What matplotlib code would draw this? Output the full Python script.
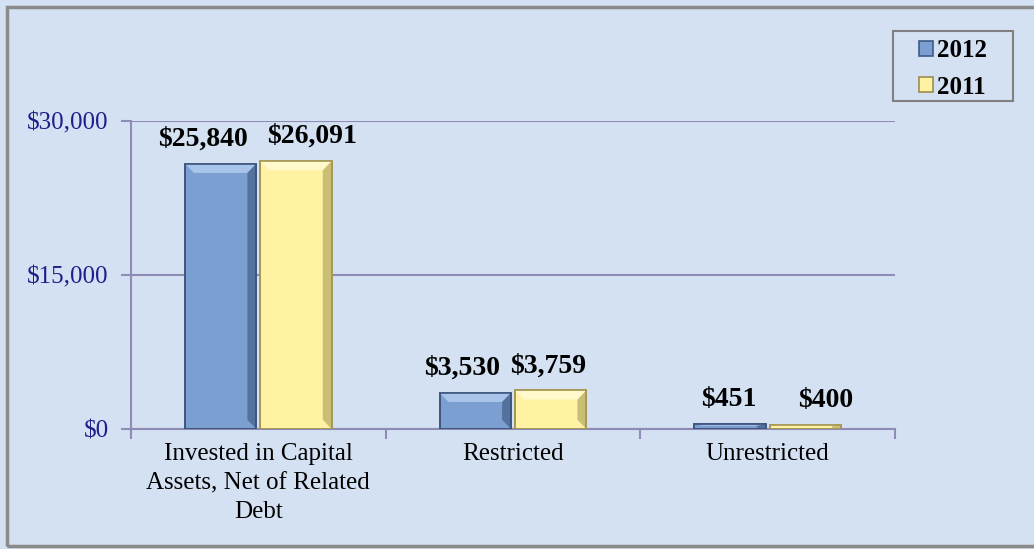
import numpy as np
import matplotlib
matplotlib.use("Agg")
import matplotlib.pyplot as plt
from matplotlib.patches import Rectangle, Polygon

categories = ["Invested in Capital\nAssets, Net of Related\nDebt", "Restricted", "Unrestricted"]
values_2012 = [25840, 3530, 451]
values_2011 = [26091, 3759, 400]
series_names = ["2012", "2011"]

BG = "#D3E1F2"
C_BLUE, E_BLUE = "#7B9FD1", "#3F5A85"
C_YEL, E_YEL = "#FFF2A3", "#9C8E4E"
GRID = "#8E8CB5"
NAVY = "#1F1F8C"

plt.rcParams["font.family"] = ["Liberation Serif", "DejaVu Serif"]

fig = plt.figure(figsize=(10.34, 5.49), dpi=100)
fig.patch.set_facecolor(BG)
# outer frame (left/top shadowed edge)
fig.patches.append(Rectangle((7 / 1034, 3 / 549), 1.1, 1 - 10 / 549, transform=fig.transFigure,
                             fill=False, edgecolor="#8A8A8A", lw=2.5))

ax = fig.add_axes([131 / 1034, 1 - 429 / 549, (895 - 131) / 1034, (429 - 121) / 549])
ax.set_facecolor(BG)

x = np.arange(len(categories))
w, off = 0.28, 0.148
b1 = ax.bar(x - off, values_2012, w, color=C_BLUE, edgecolor=E_BLUE, lw=1.2, label=series_names[0], zorder=3)
b2 = ax.bar(x + off, values_2011, w, color=C_YEL, edgecolor=E_YEL, lw=1.2, label=series_names[1], zorder=3)

# simple bevel look: light top, dark right side
bx = 0.035
for bars, light, dark in [(b1, "#A9C4EA", "#3D557C"), (b2, "#FFF9CC", "#A89A55")]:
    for r in bars:
        x0, y0, ww, hh = r.get_x(), r.get_y(), r.get_width(), r.get_height()
        by = min(900, hh * 0.3)
        ax.add_patch(Polygon([(x0, y0 + hh), (x0 + ww, y0 + hh), (x0 + ww - bx, y0 + hh - by),
                              (x0 + bx, y0 + hh - by)], closed=True, color=light, lw=0, zorder=4))
        ax.add_patch(Polygon([(x0 + ww, y0), (x0 + ww, y0 + hh), (x0 + ww - bx, y0 + hh - by),
                              (x0 + ww - bx, y0 + by)], closed=True, color=dark, lw=0, alpha=0.6, zorder=4))
        ax.add_patch(Rectangle((x0, y0), ww, hh, fill=False, edgecolor=dark, lw=1.2, zorder=5))

label_dx = [[-18, 16], [-13, -3], [-1, 20]]  # pixel nudges of value labels
for i, (bars, vals) in enumerate([(b1, values_2012), (b2, values_2011)]):
    for j, (r, v) in enumerate(zip(bars, vals)):
        ax.annotate(f"${v:,}", (r.get_x() + r.get_width() / 2, v), xytext=(label_dx[j][i], 12),
                    textcoords="offset pixels", ha="center", va="bottom",
                    fontsize=20, fontweight="bold", color="black")

ax.set_xlim(-0.5, 2.5)
ax.set_ylim(0, 30000)
ax.set_yticks([0, 15000, 30000])
ax.set_yticklabels(["$0", "$15,000", "$30,000"], color=NAVY, fontsize=18)
ax.yaxis.grid(True, color=GRID, lw=1.5, zorder=0)
ax.tick_params(axis="y", length=7, color=GRID, width=1.5, pad=9)

ax.set_xticks(x)
ax.set_xticklabels(categories, fontsize=18, linespacing=1.42)
ax.tick_params(axis="x", length=0, pad=10)
ax.set_xticks([-0.5, 0.5, 1.5, 2.5], minor=True)
ax.tick_params(axis="x", which="minor", length=7, color=GRID, width=1.5)

for s in ["top", "right"]:
    ax.spines[s].set_visible(False)
for s in ["left", "bottom"]:
    ax.spines[s].set_color(GRID)
    ax.spines[s].set_linewidth(1.5)

# legend box drawn separately so its size matches the reference
fig.patches.append(Rectangle((893 / 1034, 1 - 101 / 549), 120 / 1034, 70 / 549, transform=fig.transFigure,
                             facecolor=BG, edgecolor="#808080", lw=1.5, zorder=5))
leg = fig.legend(loc="upper left", bbox_to_anchor=(919 / 1034, 1 - 39 / 549),
                 frameon=False, prop={"weight": "bold", "size": 18}, handlelength=0.55, handleheight=0.55,
                 handletextpad=0.15, labelspacing=0.55, borderpad=0, borderaxespad=0)
leg.set_zorder(6)

fig.savefig("out.png", dpi=100, facecolor=BG)
